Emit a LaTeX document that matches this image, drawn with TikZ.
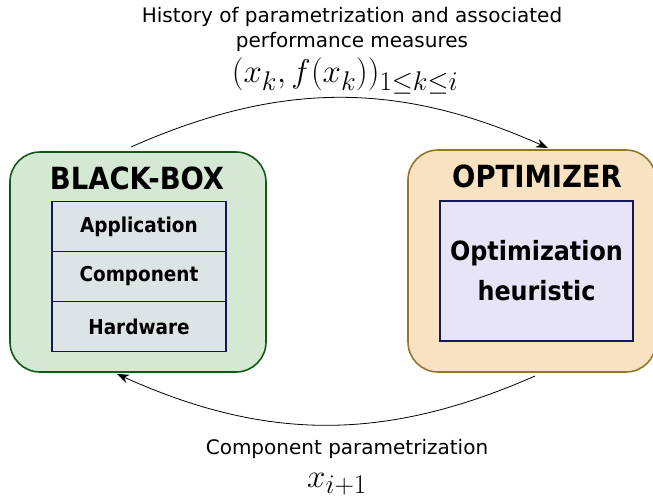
\RequirePackage{fix-cm}
\documentclass[tikz,border=0pt]{standalone}
\usepackage{amsmath}
\usepackage{fontspec}
\setmainfont{DejaVu Sans}
\newfontfamily\titlefont{DejaVu Sans Condensed}
\DeclareMathSizes{33}{33}{27}{21}
\usetikzlibrary{arrows.meta,positioning}
\definecolor{BoxGreen}{HTML}{D5E8D4}
\definecolor{EdgeGreen}{HTML}{0F5A14}
\definecolor{BoxOrange}{HTML}{F9E2C2}
\definecolor{EdgeOrange}{HTML}{94772A}
\definecolor{LayerGrey}{HTML}{DDE4E6}
\definecolor{EdgeNavy}{HTML}{14185A}
\definecolor{SoftLilac}{HTML}{E8E4F8}

\begin{document}
\begin{tikzpicture}[x=1pt,y=-1pt,>={Stealth[length=12pt,width=9pt]},
 outer/.style={rounded corners=30pt,line width=1.6pt,minimum width=#1},
 layer/.style={draw=EdgeNavy,line width=1.2pt,fill=LayerGrey,minimum width=174pt,minimum height=50pt,
   font=\titlefont\bfseries\fontsize{20.5}{24}\selectfont,inner sep=0pt,outer sep=0pt},
 title/.style={font=\titlefont\bfseries\fontsize{30.5}{34}\selectfont,inner sep=0pt},
 caption/.style={font=\fontsize{20}{25}\selectfont,align=center,inner sep=0pt},
 formula/.style={inner sep=0pt,font=\fontsize{33}{36}\selectfont}]
\useasboundingbox (0,0) rectangle (653,498);
% the two main blocks
\node[outer=256pt,draw=EdgeGreen,fill=BoxGreen,minimum height=220pt] (bbox) at (138,262) {};
\node[outer=248pt,draw=EdgeOrange,fill=BoxOrange,minimum height=222pt] (opt) at (532,261) {};
\node[title] (bbtitle) at (137,178) {BLACK-BOX};
\node[title] (opttitle) at (537,176) {OPTIMIZER};
% layers of the black box
\node[layer] (app) at (139,226.5) {Application};
\node[layer,below=0pt of app] (comp) {Component};
\node[layer,below=0pt of comp] (hw) {Hardware};
\node[draw=EdgeNavy,line width=2.6pt,fill=SoftLilac,minimum width=193pt,minimum height=140pt,align=center,
  font=\titlefont\bfseries\fontsize{26.5}{40}\selectfont] (heur) at (536.5,271) {Optimization\\heuristic};
% arrows
\coordinate (bbtop) at (131,147);
\coordinate (opttop) at (548,148);
\coordinate (optbot) at (535,376);
\coordinate (bbbot) at (117,374);
\draw[->,line width=0.8pt] (bbtop) to[bend left=24] (opttop);
\draw[->,line width=0.8pt] (optbot) to[bend left=24] (bbbot);
% labels
\node[caption] (histtext) at (352,29.5) {History of parametrization and associated\\performance measures};
\node[formula] (histmath) at (345,76) {$(x_k,f(x_k))_{1\leq k\leq i}$};
\node[caption] (paramtext) at (347,449) {Component parametrization};
\node[formula,anchor=base] (parammath) at (337,487) {$x_{i+1}$};
\end{tikzpicture}
\end{document}
